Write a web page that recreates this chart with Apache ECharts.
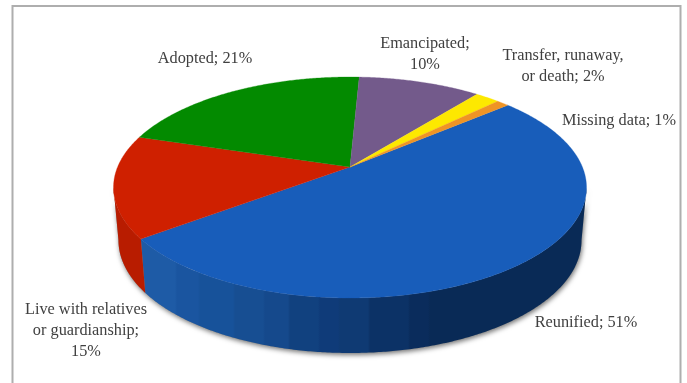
<!DOCTYPE html>
<html><head><meta charset="utf-8">
<style>html,body{margin:0;padding:0;background:#fff}#c{width:687px;height:383px}</style>
<script src="https://cdn.jsdelivr.net/npm/echarts@6/dist/echarts.min.js"></script>
</head><body><div id="c"></div>
<script>
// ---- data ----
const categories = ['Reunified','Live with relatives or guardianship','Adopted','Emancipated','Transfer, runaway, or death','Missing data'];
const percents = [51,15,21,10,2,1];
// ---- labels, one per category ----
const labelLines = [['Reunified; 51%'],['Live with relatives','or guardianship;','15%'],['Adopted; 21%'],['Emancipated;','10%'],['Transfer, runaway,','or death; 2%'],['Missing data; 1%']];
// ---- style / layout, separate from the data ----
const topColors = ['#185dba','#cf2000','#038a00','#735a8b','#fde800','#ef9425'];
const labelAnchors = [[586,323],[86,330.5],[205,59],[425,54.5],[563,66],[619,121]];
const startAngle = 49.5, apex = [350,167], persp = 0.1855;
const topDisc = {b:232.4,a:106.7,d:0}, baseDisc = {b:227.5,a:108.8,d:52.4};
const tangentRight = 100.7, tangentLeft = 259.3;
const blueBands = [[143,'#1e5ba6'],[177,'#1a55a0'],[200,'#17529a'],[235,'#174e92'],[265,'#15498c'],[290,'#11417f'],[320,'#0f3b79'],[340,'#0f3a73'],[370,'#0c3266'],[410,'#0a2c5c'],[430,'#092a56'],[590,'#092a56']];
const redWall = '#b81c00';

function pt(deg, disc){
  const t = deg*Math.PI/180, u = Math.sin(t), v = -Math.cos(t), w = 1-persp*v;
  return [apex[0]+disc.b*u/w, apex[1]+disc.d+disc.a*v/w];
}
function arc(a0,a1,disc){
  const n = Math.max(2,Math.ceil(Math.abs(a1-a0)*2)), out=[];
  for(let i=0;i<=n;i++) out.push(pt(a0+(a1-a0)*i/n,disc));
  return out;
}
const total = percents.reduce((s,v)=>s+v,0);
function range(i){
  let s=0; for(let j=0;j<i;j++) s+=percents[j];
  return [startAngle+s/total*360, startAngle+(s+percents[i])/total*360];
}
function blueGradient(){
  const x0=blueBands[0][0], x1=blueBands[blueBands.length-1][0], span=x1-x0, st=[];
  blueBands.forEach((b,i)=>{
    st.push({offset:(b[0]-x0)/span,color:b[1]});
    if(i<blueBands.length-1) st.push({offset:(blueBands[i+1][0]-2-x0)/span,color:b[1]});
  });
  return new echarts.graphic.LinearGradient(x0,0,x1,0,st,true);
}
function renderWall(params,api){
  const i=params.dataIndex, r=range(i), children=[];
  const a0=Math.max(r[0],tangentRight), a1=Math.min(r[1],tangentLeft);
  if(i===0){
    // soft shadow under the whole solid
    const outline=arc(tangentRight,tangentLeft,baseDisc).concat(arc(tangentLeft,tangentRight,topDisc));
    children.push({type:'polygon',shape:{points:outline},
      style:{fill:'#888',shadowColor:'rgba(0,0,0,0.55)',shadowBlur:5,shadowOffsetX:1,shadowOffsetY:2}});
  }
  if(a1>a0){
    children.push({type:'polygon',
      shape:{points:arc(a0,a1,topDisc).concat(arc(a1,a0,baseDisc))},
      style:{fill:i===0?blueGradient():redWall,stroke:null}});
  }
  return {type:'group',children};
}
function renderTop(params,api){
  const i=params.dataIndex, r=range(i);
  return {type:'polygon',shape:{points:[apex].concat(arc(r[0],r[1],topDisc))},
    style:{fill:topColors[i],stroke:topColors[i],lineWidth:0.3}};
}
function renderLabel(params,api){
  const i=params.dataIndex;
  return {type:'text',x:labelAnchors[i][0],y:labelAnchors[i][1],
    style:{text:labelLines[i].join('\n'),font:'16.3px "Liberation Serif"',fill:'#404040',
      align:'center',verticalAlign:'middle',lineHeight:21}};
}
const seriesData = percents.map((v,i)=>({name:categories[i],value:v}));
const chart = echarts.init(document.getElementById('c'),null,{renderer:'canvas'});
chart.setOption({
  animation:false,
  graphic:[{type:'rect',shape:{x:12.5,y:6,width:668,height:400},style:{fill:'#fff',stroke:'#aeaeae',lineWidth:2},z:-1}],
  series:[
    {type:'custom',coordinateSystem:'none',renderItem:renderWall,data:seriesData,silent:true,z:2},
    {type:'custom',coordinateSystem:'none',renderItem:renderTop,data:seriesData,silent:true,z:3},
    {type:'custom',coordinateSystem:'none',renderItem:renderLabel,data:seriesData,silent:true,z:4}
  ]
});
</script></body></html>
